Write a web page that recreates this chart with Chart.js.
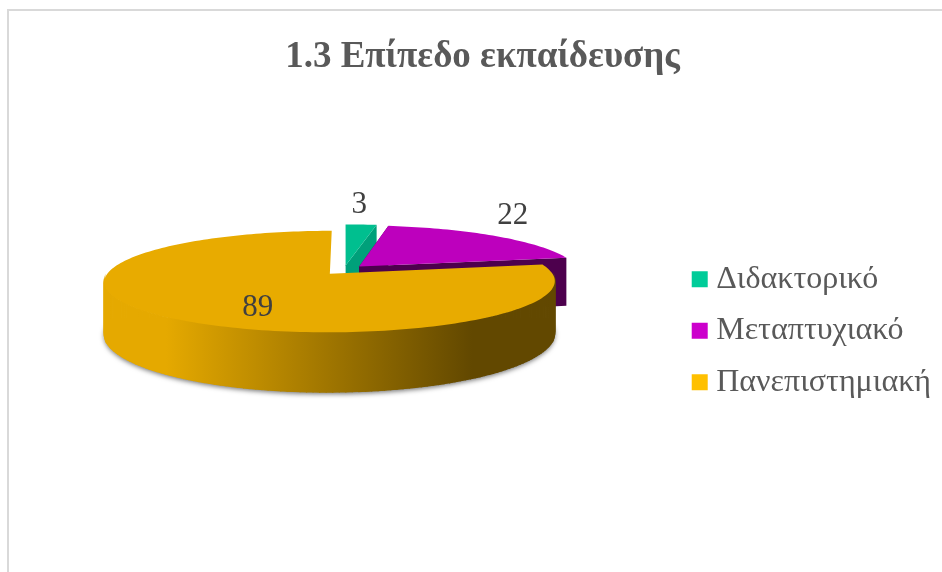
<!DOCTYPE html>
<html>
<head>
<meta charset="utf-8">
<script src="https://cdn.jsdelivr.net/npm/chart.js@4"></script>
<style>
  html, body { margin: 0; padding: 0; background: #fff; }
  #wrap { position: absolute; left: 0; top: 0; width: 942px; height: 572px; }
</style>
</head>
<body>
<div id="wrap"><canvas id="chartEducation" width="942" height="572"></canvas></div>
<script>
const labels = ["Διδακτορικό", "Μεταπτυχιακό", "Πανεπιστημιακή"];
const values = [3, 22, 89];

const legendColors = ["#00CC99", "#CC00CC", "#FFC000"];
const faceColors = ["#00BF8F", "#BD00BD", "#E8AB00"];
const wallColors = ["#00A07A", "#4D004D", "#E5A900"];

// tilted pie view
const centerX = 344;
const centerY = 270;
const tilt = 0.22;
const depth = 50;
const viewDistance = 1450;

// label placement: fraction of the radius, then a small nudge
const labelRadius = [1, 1, 0.5];
const labelNudgeX = [-2, 18, 4];
const labelNudgeY = [-20, -20, 14];

const project = (u, v, z) => {
  const f = 1 / (1 - v / viewDistance);
  return { x: centerX + u * f, y: centerY + (tilt * v + z) * f };
};

const sliceGeometry = (arc) => {
  const { startAngle, endAngle, outerRadius } = arc.getProps(["startAngle", "endAngle", "outerRadius"], true);
  const mid = (startAngle + endAngle) / 2;
  const offset = arc.options.offset || 0;
  return {
    startAngle,
    endAngle,
    mid,
    radius: outerRadius,
    ox: Math.cos(mid) * offset,
    oy: Math.sin(mid) * offset,
  };
};

const rimAngles = (g) => {
  const angles = [];
  const steps = Math.max(4, Math.ceil((g.endAngle - g.startAngle) * 40));
  for (let i = 0; i <= steps; i++) {
    angles.push(g.startAngle + (g.endAngle - g.startAngle) * i / steps);
  }
  return angles;
};

const rimPoint = (g, a, z) => project(g.ox + g.radius * Math.cos(a), g.oy + g.radius * Math.sin(a), z);

const fillPolygon = (ctx, points, fill) => {
  ctx.beginPath();
  points.forEach((p, i) => (i ? ctx.lineTo(p.x, p.y) : ctx.moveTo(p.x, p.y)));
  ctx.closePath();
  ctx.fillStyle = fill;
  ctx.fill();
};

const tiltedPie = {
  id: "tiltedPie",
  beforeDraw(chart) {
    // chart frame, only top and left are inside the picture
    const { ctx, width, height } = chart;
    ctx.save();
    ctx.fillStyle = "#D9D9D9";
    ctx.fillRect(7, 9, width - 7, 2);
    ctx.fillRect(7, 9, 2, height - 9);
    ctx.restore();
  },
  beforeDatasetsDraw(chart) {
    const { ctx, width, height } = chart;
    const arcs = chart.getDatasetMeta(0).data;

    arcs.forEach((arc, i) => {
      const g = sliceGeometry(arc);
      const angles = rimAngles(g);
      const top = angles.map((a) => rimPoint(g, a, 0));
      const bottom = angles.map((a) => rimPoint(g, a, depth));
      const apexTop = project(g.ox, g.oy, 0);
      const apexBottom = project(g.ox, g.oy, depth);

      let wallFill = wallColors[i];
      if (i === 2) {
        wallFill = ctx.createLinearGradient(103, 0, 553, 0);
        wallFill.addColorStop(0, wallColors[2]);
        wallFill.addColorStop(0.14, wallColors[2]);
        wallFill.addColorStop(0.82, "#624800");
        wallFill.addColorStop(1, "#624800");

        // soft shadow under the front of the big slice
        ctx.save();
        ctx.beginPath();
        ctx.rect(0, 318, width, height - 318);
        ctx.clip();
        ctx.shadowColor = "rgba(0,0,0,0.55)";
        ctx.shadowBlur = 5;
        ctx.shadowOffsetY = 2;
        fillPolygon(ctx, [apexBottom].concat(bottom), wallFill);
        ctx.restore();
      } else {
        const last = top.length - 1;
        fillPolygon(ctx, [apexTop, top[0], bottom[0], apexBottom], wallFill);
        fillPolygon(ctx, [apexTop, top[last], bottom[last], apexBottom], wallFill);
      }

      // only the rim strips that face the viewer
      ctx.strokeStyle = wallFill;
      ctx.lineWidth = 1.2;
      for (let k = 0; k < top.length - 1; k++) {
        if (Math.sin(angles[k]) < 0.1 && Math.sin(angles[k + 1]) < 0.1) continue;
        fillPolygon(ctx, [top[k], top[k + 1], bottom[k + 1], bottom[k]], wallFill);
        ctx.stroke();
      }
      fillPolygon(ctx, [apexTop].concat(top), faceColors[i]);
    });

    // value labels
    ctx.save();
    ctx.font = "31px 'Liberation Serif'";
    ctx.fillStyle = "#404040";
    ctx.textAlign = "center";
    ctx.textBaseline = "middle";
    arcs.forEach((arc, i) => {
      const g = sliceGeometry(arc);
      const r = g.radius * labelRadius[i];
      const p = project(g.ox + r * Math.cos(g.mid), g.oy + r * Math.sin(g.mid), 0);
      ctx.fillText(String(values[i]), p.x + labelNudgeX[i], p.y + labelNudgeY[i]);
    });
    ctx.restore();

    return false;
  },
};

const chartEducation = new Chart(document.getElementById("chartEducation").getContext("2d"), {
  type: "pie",
  data: {
    labels: labels,
    datasets: [
      {
        data: values,
        backgroundColor: legendColors,
        borderWidth: 0,
        offset: 22,
      },
    ],
  },
  options: {
    responsive: false,
    animation: false,
    radius: 220,
    layout: { padding: { left: 24, right: 1, top: 0, bottom: 0 } },
    plugins: {
      title: {
        display: true,
        text: "1.3 Επίπεδο εκπαίδευσης",
        color: "#595959",
        font: { family: "'Liberation Serif'", size: 37, weight: "bold" },
        padding: { top: 35, bottom: 10 },
      },
      legend: {
        position: "right",
        fullSize: false,
        labels: {
          color: "#595959",
          font: { family: "'Liberation Serif'", size: 32 },
          usePointStyle: true,
          pointStyle: "rect",
          boxWidth: 1,
          boxHeight: 16,
          padding: 19.5,
        },
      },
      tooltip: { enabled: false },
    },
  },
  plugins: [tiltedPie],
});
</script>
</body>
</html>
